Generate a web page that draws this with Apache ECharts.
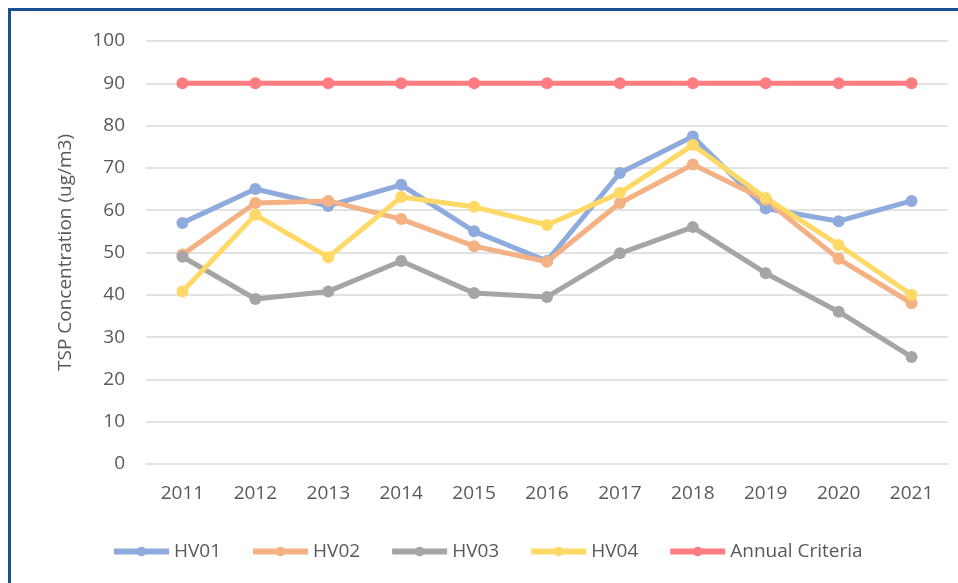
<!DOCTYPE html>
<html>
<head>
<meta charset="utf-8">
<script src="https://cdn.jsdelivr.net/npm/echarts@6/dist/echarts.min.js"></script>
<style>
  html, body { margin: 0; padding: 0; background: #fff; }
  #chart { position: absolute; left: 0; top: 0; width: 958px; height: 583px; }
  #frame {
    position: absolute; left: 8px; top: 8px; right: 0; bottom: 0;
    border-left: 3px solid #1b4f93; border-top: 3px solid #1b4f93;
    pointer-events: none;
  }
</style>
</head>
<body>
<div id="chart"></div>
<div id="frame"></div>
<script>
// 数据
const years = ["2011", "2012", "2013", "2014", "2015", "2016", "2017", "2018", "2019", "2020", "2021"];
const hv01 = [57, 65, 61, 66, 55, 48, 68.8, 77.4, 60.4, 57.4, 62.2];
const hv02 = [49.5, 61.7, 62.2, 57.9, 51.5, 47.8, 61.7, 70.8, 62.4, 48.5, 38];
const hv03 = [49, 39, 40.8, 48, 40.4, 39.5, 49.8, 56, 45.1, 36, 25.3];
const hv04 = [40.8, 58.9, 48.9, 63.1, 60.8, 56.5, 64.1, 75.4, 62.9, 51.8, 40];
const criteria = [90, 90, 90, 90, 90, 90, 90, 90, 90, 90, 90];

const font = "'Open Sans', 'Liberation Sans', sans-serif";

function line(name, data, color) {
  return {
    name: name,
    type: "line",
    data: data,
    symbol: "circle",
    symbolSize: 12,
    lineStyle: { width: 5, color: color },
    itemStyle: { color: color },
    emphasis: { disabled: true }
  };
}

const mycharts = echarts.init(document.getElementById("chart"));
mycharts.setOption({
  animation: false,
  textStyle: { fontFamily: font },
  grid: { left: 146, right: 10, top: 41, bottom: 119 },
  legend: {
    left: 106,
    top: 537,
    itemWidth: 55,
    itemHeight: 12,
    itemGap: 29,
    lineStyle: { width: 6 },
    textStyle: { color: "#595959", fontSize: 19, fontFamily: font },
    data: ["HV01", "HV02", "HV03", "HV04", "Annual Criteria"]
  },
  xAxis: {
    type: "category",
    data: years,
    boundaryGap: true,
    axisLine: { show: false },
    axisTick: { show: false },
    axisLabel: { color: "#595959", fontSize: 19, margin: 20 }
  },
  yAxis: {
    type: "value",
    min: 0,
    max: 100,
    interval: 10,
    name: "TSP Concentration (ug/m3)",
    nameLocation: "middle",
    nameGap: 71,
    nameTextStyle: { color: "#595959", fontSize: 19 },
    axisLabel: { color: "#595959", fontSize: 19, margin: 21 },
    splitLine: { lineStyle: { color: "#d9d9d9", width: 1.5 } }
  },
  series: [
    line("HV01", hv01, "#8faadc"),
    line("HV02", hv02, "#f4b183"),
    line("HV03", hv03, "#a5a5a5"),
    line("HV04", hv04, "#ffd966"),
    line("Annual Criteria", criteria, "#ff7c80")
  ]
});
</script>
</body>
</html>
